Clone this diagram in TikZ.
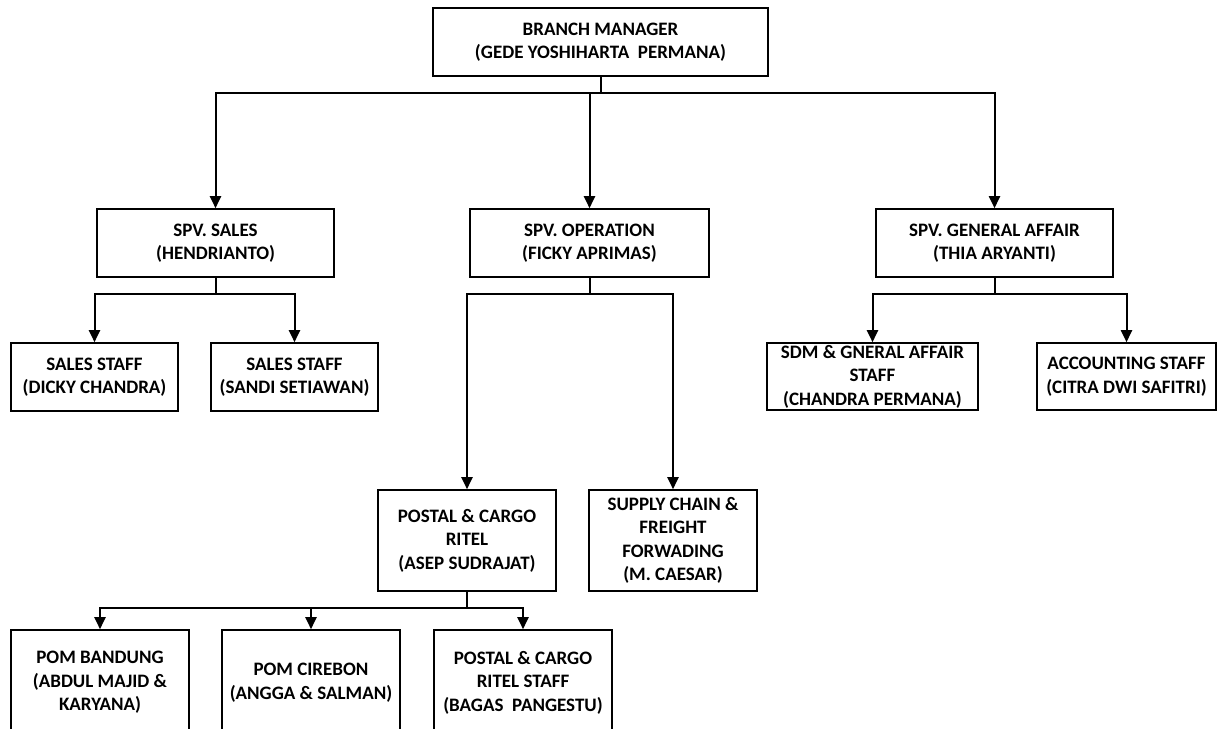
\documentclass[tikz,border=0pt]{standalone}
\usepackage{fontspec}
\setmainfont{Carlito}
\usetikzlibrary{arrows.meta}
\begin{document}
\begin{tikzpicture}[x=1pt,y=-1pt]\tikzstyle{every node}=[draw,line width=1.6pt,align=center,inner sep=2pt,font=\fontsize{19}{23.5}\selectfont\bfseries]
\tikzstyle{link}=[line width=2pt,-{Triangle[width=11pt,length=12pt]}]
\useasboundingbox (0,0) rectangle (1222,728);
\clip (0,0) rectangle (1222,728);
\node[minimum width=335pt,minimum height=68pt] at (600.5,42) (bm) {BRANCH MANAGER\\(GEDE YOSHIHARTA~ PERMANA)};
\node[minimum width=237pt,minimum height=68pt] at (215.5,243) (spvs) {SPV. SALES\\(HENDRIANTO)};
\node[minimum width=239pt,minimum height=68pt] at (589.5,243) (spvo) {SPV. OPERATION\\(FICKY APRIMAS)};
\node[minimum width=237pt,minimum height=68pt] at (994.5,243) (spvg) {SPV. GENERAL AFFAIR\\(THIA ARYANTI)};
\node[minimum width=167pt,minimum height=68pt] at (94.5,377) (ss1) {SALES STAFF\\(DICKY CHANDRA)};
\node[minimum width=167pt,minimum height=68pt] at (294.5,377) (ss2) {SALES STAFF\\(SANDI SETIAWAN)};
\node[minimum width=211pt,minimum height=67pt,inner sep=0pt] at (872.5,376.5) (sdm) {SDM \& GNERAL AFFAIR\\STAFF\\(CHANDRA PERMANA)};
\node[minimum width=179pt,minimum height=67pt] at (1126.5,376.5) (acc) {ACCOUNTING STAFF\\(CITRA DWI SAFITRI)};
\node[minimum width=178pt,minimum height=101pt] at (467,540.5) (pcr) {POSTAL \& CARGO\\RITEL\\(ASEP SUDRAJAT)};
\node[minimum width=168pt,minimum height=101pt,inner sep=0pt] at (673,540.5) (scf) {SUPPLY CHAIN \&\\FREIGHT\\FORWADING\\(M. CAESAR)};
\node[minimum width=178pt,minimum height=105pt] at (100,682.5) (pomb) {POM BANDUNG\\(ABDUL MAJID \&\\KARYANA)};
\node[minimum width=178pt,minimum height=105pt] at (311,682.5) (pomc) {POM CIREBON\\(ANGGA \& SALMAN)};
\node[minimum width=178pt,minimum height=105pt] at (523,682.5) (pcs) {POSTAL \& CARGO\\RITEL STAFF\\(BAGAS~ PANGESTU)};
\draw[link] (bm.south) -- ++(0,16) -| (spvs.north);
\draw[link] (bm.south) -- ++(0,16) -| (spvo.north);
\draw[link] (bm.south) -- ++(0,16) -| (spvg.north);
\draw[link] (spvs.south) -- ++(0,16) -| (ss1.north);
\draw[link] (spvs.south) -- ++(0,16) -| (ss2.north);
\draw[link] (spvo.south) -- ++(0,16) -| (pcr.north);
\draw[link] (spvo.south) -- ++(0,16) -| (scf.north);
\draw[link] (spvg.south) -- ++(0,16) -| (sdm.north);
\draw[link] (spvg.south) -- ++(0,16) -| (acc.north);
\draw[link] (pcr.south) -- ++(0,16) -| (pomb.north);
\draw[link] (pcr.south) -- ++(0,16) -| (pomc.north);
\draw[link] (pcr.south) -- ++(0,16) -| (pcs.north);
\end{tikzpicture}
\end{document}
